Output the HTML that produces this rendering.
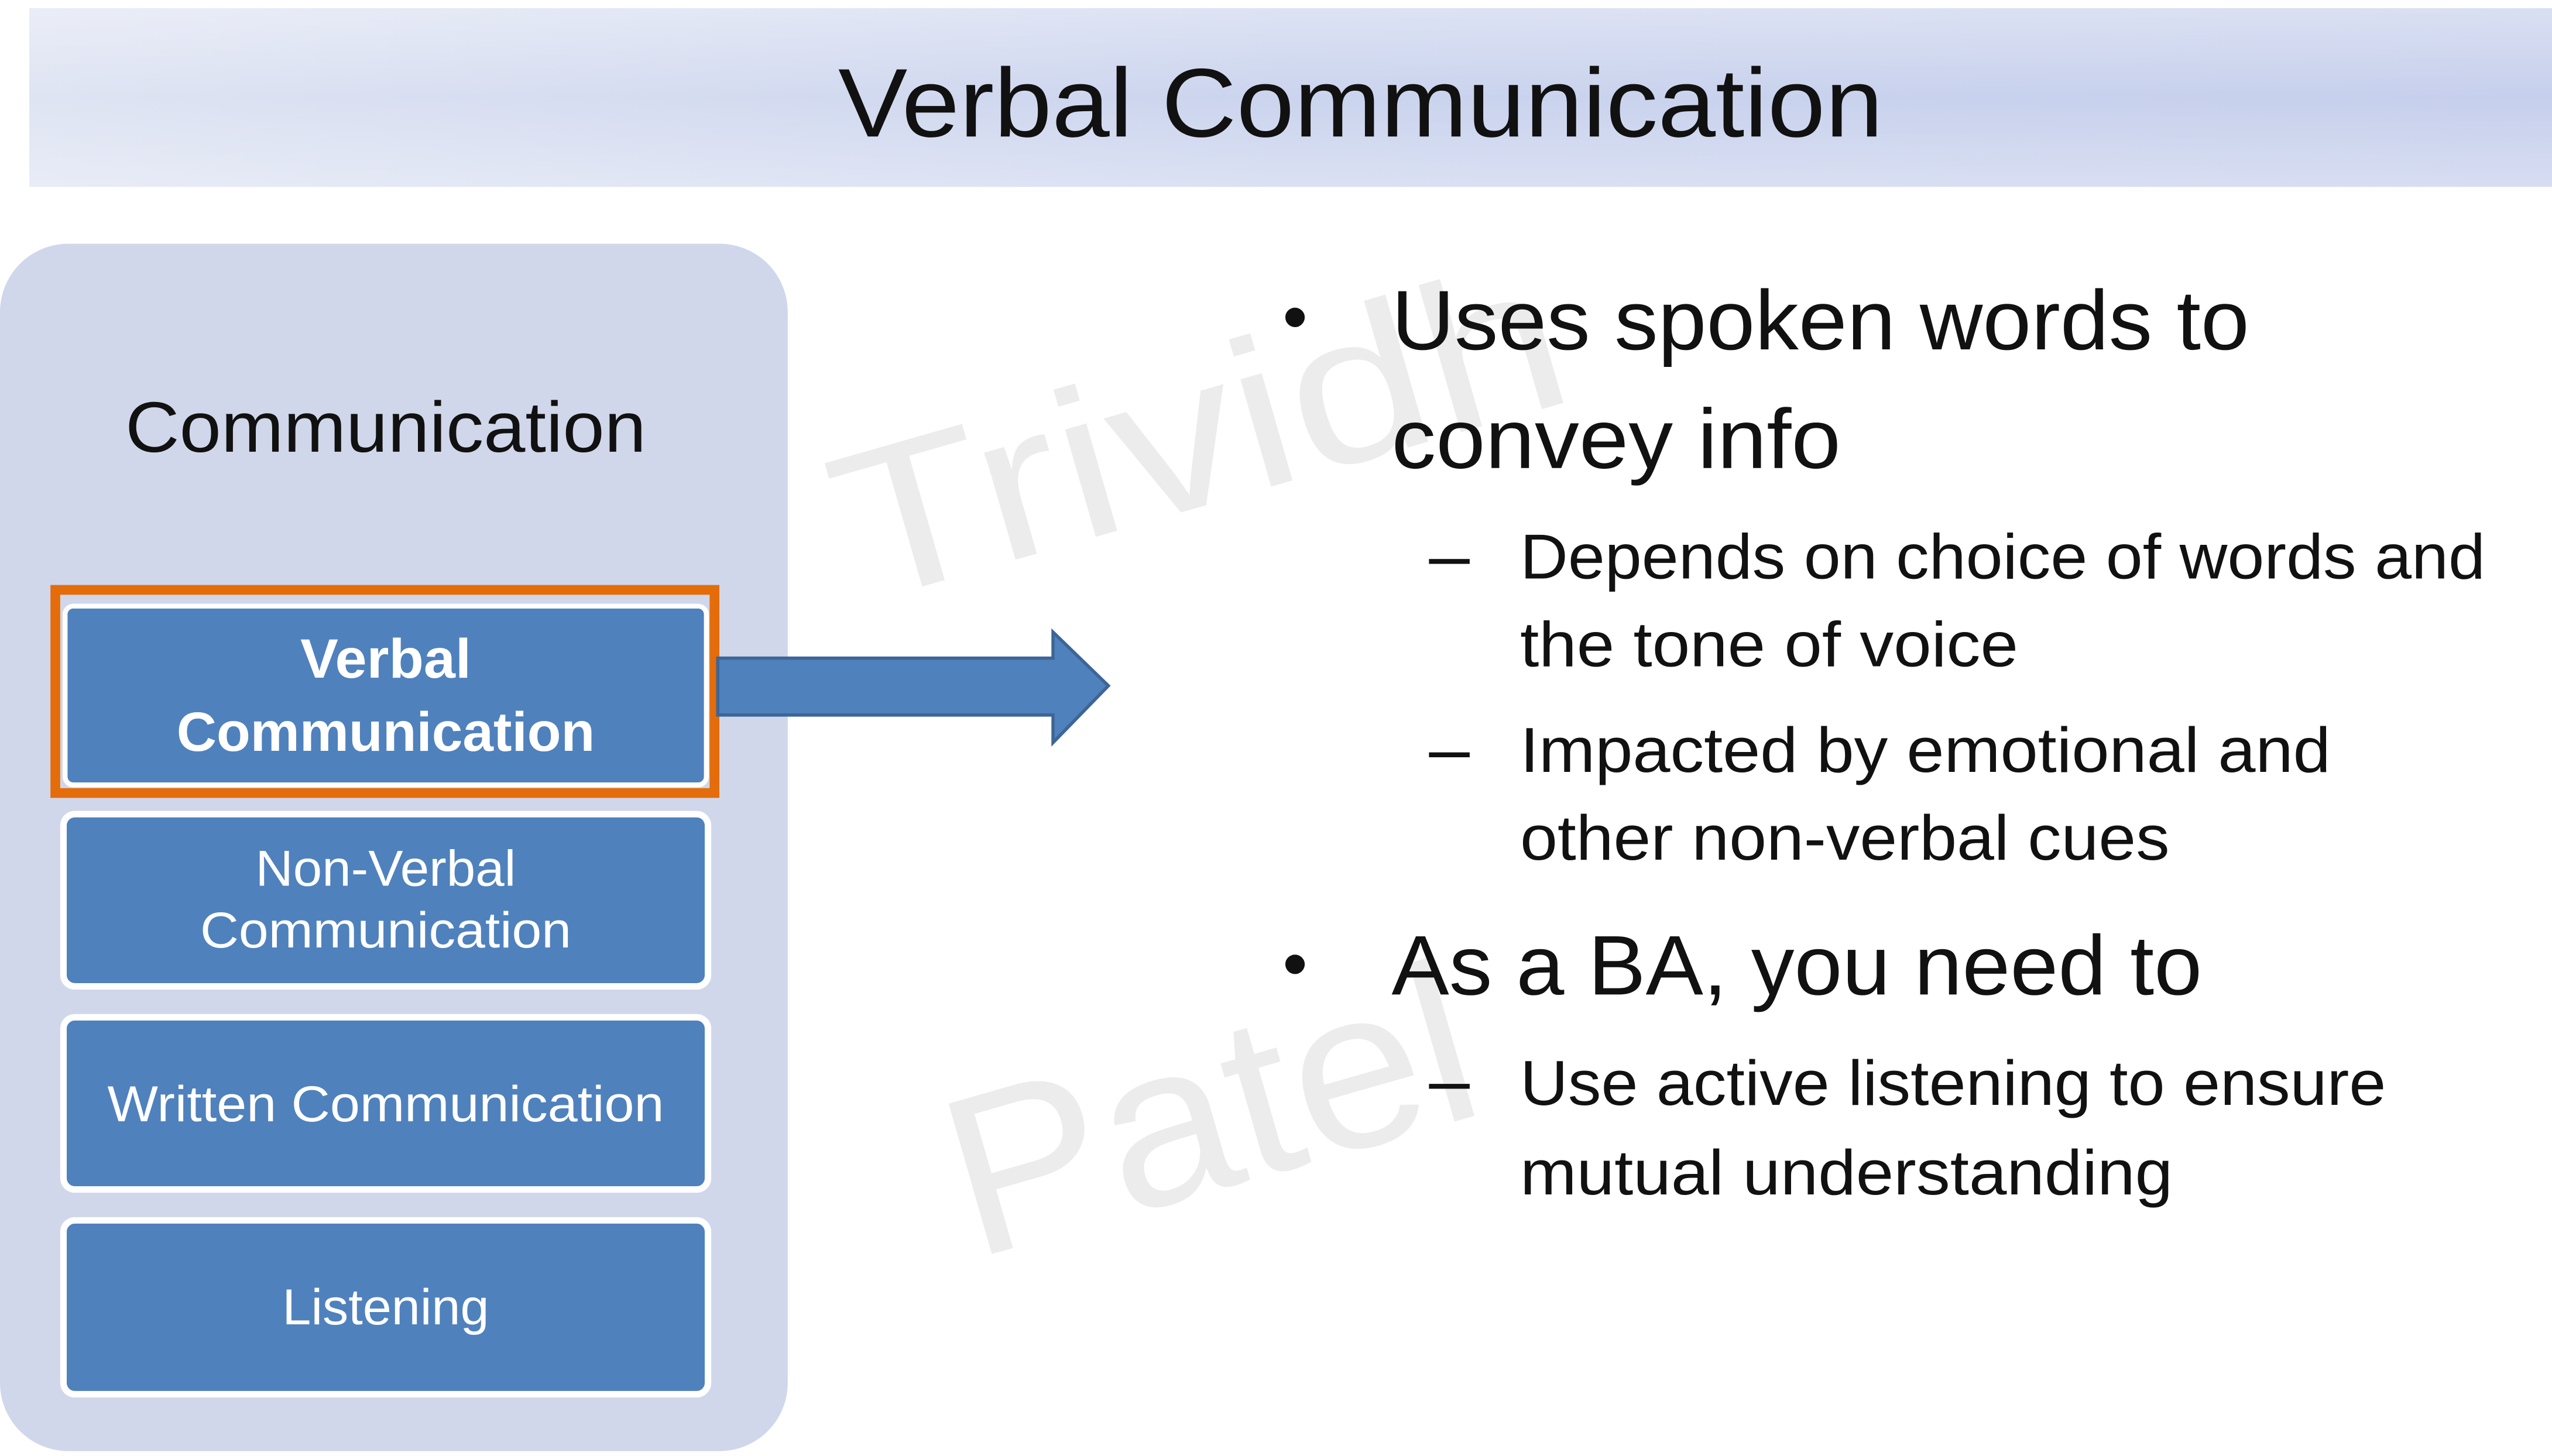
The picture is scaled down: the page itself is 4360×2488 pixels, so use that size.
<!DOCTYPE html>
<html><head><meta charset="utf-8"><style>
html,body{margin:0;padding:0;background:#fff;width:4360px;height:2488px;overflow:hidden}
svg{display:block}
text{font-family:"Liberation Sans",sans-serif}
</style></head><body>
<svg width="4360" height="2488" viewBox="0 0 1568 896" preserveAspectRatio="none" xmlns="http://www.w3.org/2000/svg">
<defs>
<linearGradient id="tb" x1="0" y1="0" x2="1" y2="0">
<stop offset="0" stop-color="#dfe4f3"/><stop offset="0.5" stop-color="#cbd4ee"/><stop offset="1" stop-color="#c6cfec"/>
</linearGradient>
<linearGradient id="tbv" x1="0" y1="0" x2="0" y2="1">
<stop offset="0" stop-color="#fff" stop-opacity="0.35"/><stop offset="0.5" stop-color="#fff" stop-opacity="0"/><stop offset="1" stop-color="#fff" stop-opacity="0.3"/>
</linearGradient>
</defs>
<rect width="1568" height="896" fill="#fff"/>
<rect x="18" y="5" width="1550" height="110" fill="url(#tb)"/>
<rect x="18" y="5" width="1550" height="110" fill="url(#tbv)"/>
<text x="836" y="84" font-size="60" text-anchor="middle" textLength="642" lengthAdjust="spacingAndGlyphs" fill="#111">Verbal Communication</text>

<!-- watermark -->
<text x="0" y="0" font-size="130" fill="#ececec" transform="translate(528,372) rotate(-16)" textLength="460" lengthAdjust="spacingAndGlyphs">Trividh</text>
<text x="0" y="0" font-size="140" fill="#ececec" transform="translate(598,775) rotate(-16)" textLength="330" lengthAdjust="spacingAndGlyphs">Patel</text>

<rect x="0" y="150" width="484" height="743" rx="42" fill="#d0d7ea"/>
<text x="237" y="278" font-size="44" text-anchor="middle" textLength="320" lengthAdjust="spacingAndGlyphs" fill="#111">Communication</text>

<rect x="34" y="363" width="405" height="125" fill="none" stroke="#e46c0a" stroke-width="6"/>
<rect x="40" y="373" width="394" height="110" rx="5" fill="#4f81bd" stroke="#fff" stroke-width="3"/>
<text x="237" y="417" font-size="34" font-weight="bold" text-anchor="middle" fill="#fff" textLength="105" lengthAdjust="spacingAndGlyphs">Verbal</text>
<text x="237" y="462" font-size="34" font-weight="bold" text-anchor="middle" fill="#fff" textLength="257" lengthAdjust="spacingAndGlyphs">Communication</text>

<rect x="39" y="501" width="396" height="106" rx="7" fill="#4f81bd" stroke="#fff" stroke-width="4"/>
<text x="237" y="545" font-size="31" text-anchor="middle" fill="#fff" textLength="160" lengthAdjust="spacingAndGlyphs">Non-Verbal</text>
<text x="237" y="583" font-size="31" text-anchor="middle" fill="#fff" textLength="228" lengthAdjust="spacingAndGlyphs">Communication</text>

<rect x="39" y="626" width="396" height="106" rx="7" fill="#4f81bd" stroke="#fff" stroke-width="4"/>
<text x="237" y="690" font-size="31" text-anchor="middle" fill="#fff" textLength="342" lengthAdjust="spacingAndGlyphs">Written Communication</text>

<rect x="39" y="751" width="396" height="107" rx="7" fill="#4f81bd" stroke="#fff" stroke-width="4"/>
<text x="237" y="815" font-size="31" text-anchor="middle" fill="#fff" textLength="127" lengthAdjust="spacingAndGlyphs">Listening</text>

<polygon points="441,405 647,405 647,389 681,422 647,457 647,440 441,440" fill="#4f81bd" stroke="#3d6597" stroke-width="2"/>

<g fill="#111">
<text x="788" y="210" font-size="44">•</text>
<text x="855" y="215" font-size="52" textLength="527" lengthAdjust="spacingAndGlyphs">Uses spoken words to</text>
<text x="855" y="288" font-size="52" textLength="276" lengthAdjust="spacingAndGlyphs">convey info</text>
<rect x="878" y="344" width="25" height="3"/>
<text x="934" y="356" font-size="39" textLength="593" lengthAdjust="spacingAndGlyphs">Depends on choice of words and</text>
<text x="934" y="410" font-size="39" textLength="306" lengthAdjust="spacingAndGlyphs">the tone of voice</text>
<rect x="878" y="463" width="25" height="3"/>
<text x="934" y="475" font-size="39" textLength="498" lengthAdjust="spacingAndGlyphs">Impacted by emotional and</text>
<text x="934" y="529" font-size="39" textLength="399" lengthAdjust="spacingAndGlyphs">other non-verbal cues</text>
<text x="788" y="608" font-size="44">•</text>
<text x="855" y="612" font-size="52" textLength="498" lengthAdjust="spacingAndGlyphs">As a BA, you need to</text>
<rect x="878" y="667" width="25" height="3"/>
<text x="934" y="680" font-size="39" textLength="532" lengthAdjust="spacingAndGlyphs">Use active listening to ensure</text>
<text x="934" y="735" font-size="39" textLength="401" lengthAdjust="spacingAndGlyphs">mutual understanding</text>
</g>
</svg>
</body></html>
